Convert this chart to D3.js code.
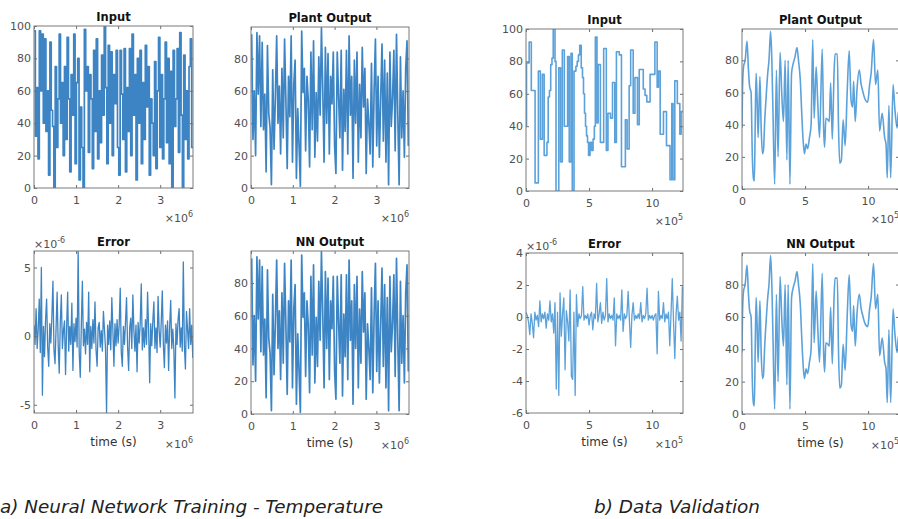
<!DOCTYPE html>
<html><head><meta charset="utf-8">
<script src="https://cdn.jsdelivr.net/npm/d3@7"></script>
<style>
html,body{margin:0;padding:0;background:#fff;}
svg{display:block;}
text{font-family:"DejaVu Sans",sans-serif;}
</style></head><body>
<svg id="c" width="898" height="519"></svg>
<script>
// ---------------- DATA ----------------
// (a) Training: time in units of 1e6 s
const timeMaxA = 3.78;
const stepA = 0.0315;          // duration of one input level (x1e6 s)
const errStepA = 0.025;        // error sampling interval (x1e6 s)
const inputA = [
97,32,62,18,97,60,95,40,92,35,
60,8,90,48,38,0,75,25,55,95,
40,65,20,75,30,93,55,10,70,45,
95,15,65,80,5,50,25,0,98,60,
75,22,70,55,12,85,35,92,18,60,
28,82,45,100,62,15,88,40,84,20,
70,52,85,25,8,85,58,30,86,10,
62,35,86,20,95,45,70,5,80,40,
85,15,65,30,88,50,75,8,55,40,
20,78,12,60,93,25,70,18,55,90,
28,80,15,72,0,85,38,55,86,22,
96,45,0,82,30,60,18,75,92,25];
const plantOutputA = [
95,30,60,20,96,58,94,38,90,36,
58,10,88,46,37,2,73,24,56,94,
40,63,21,74,31,92,54,12,69,44,
94,16,64,79,6,49,26,1,97,59,
74,23,69,54,13,84,36,91,19,59,
29,81,45,99,61,16,87,40,83,21,
69,52,84,26,9,84,57,31,85,11,
61,35,85,21,94,45,69,6,79,40,
84,16,64,31,87,50,74,9,55,40,
21,77,13,60,92,26,69,19,55,89,
29,79,16,71,2,84,38,55,85,23,
95,45,2,81,31,60,19,74,91,26];
const nnOutputA = plantOutputA; // NN output is indistinguishable from plant output
const errorA = [ // x1e-6
0.8,-0.6,2.0,-0.9,0.5,2.7,-1.2,5.0,-4.3,0.7,
-1.5,1.2,2.7,-0.8,-2.2,0.9,-0.5,1.4,4.0,-1.0,
-2.0,0.6,3.2,-0.7,-2.7,1.0,3.0,-0.9,0.4,1.1,
-2.8,0.6,3.2,-1.1,0.7,-0.6,2.4,-2.5,0.9,-0.4,
1.3,-0.8,6.2,-1.2,-3.0,0.8,4.0,-0.7,0.5,-1.3,
1.0,-0.6,3.2,-2.6,0.7,-0.9,1.2,-0.5,2.5,-1.0,
-2.2,0.6,1.0,-0.8,0.4,-1.1,1.8,0.5,-0.9,-5.6,
0.8,-0.6,1.1,-1.0,2.8,0.5,-2.2,0.9,-0.7,1.2,
-0.5,0.8,3.5,-1.2,-2.2,0.7,-0.6,1.0,2.8,-0.8,
-2.5,0.6,1.3,-0.9,3.0,0.4,-1.1,0.8,-2.6,1.0,
-0.5,0.9,3.8,-1.0,0.6,-0.8,1.2,-0.6,3.2,0.5,
-3.4,0.9,-0.7,1.1,2.5,-0.9,0.6,-1.2,2.9,0.4,
-0.8,1.0,3.3,-0.6,-2.3,0.8,-0.5,1.1,-2.5,0.7,
2.6,-0.9,0.5,-1.0,-4.5,0.9,-0.6,1.2,2.0,-0.8,
0.6,-1.1,5.4,-0.7,-2.4,1.8,0.5,-0.9,2.0,-0.6,
0.8,-1.6];

// (b) Validation: time in units of 1e5 s
const timeMaxB = 12.45;
const errStepB = 0.1;
const inputBTime = [0,0.04,0.25,0.42,0.72,0.98,1.14,1.30,1.44,1.66,1.76,1.86,1.96,2.06,2.16,2.30,2.38,2.60,2.74,2.88,3.04,3.30,3.43,3.57,3.67,3.81,3.96,4.06,4.16,4.26,4.38,4.48,4.56,4.64,4.72,4.80,4.88,4.96,5.08,5.20,5.32,5.42,5.50,5.63,5.72,5.90,6.16,6.37,6.50,6.70,6.86,7.04,7.17,7.40,7.57,7.88,8.02,8.18,8.30,8.50,8.64,8.84,8.98,9.30,9.44,9.58,9.84,10.22,10.40,10.50,10.64,10.90,11.14,11.42,11.56,11.66,11.80,12.00,12.20,12.30];
const inputBValue = [40,79,92,62,5,74,32,72,22,30,58,62,78,82,100,80,0,76,18,87,40,83,18,85,0,74,77,80,84,90,76,70,60,48,40,34,30,22,30,25,32,40,95,42,78,30,88,25,48,45,67,30,86,84,15,44,26,65,87,48,70,41,75,63,59,55,72,92,64,74,35,49,28,7,54,7,68,54,35,49];
const plantBTime = [0,0.04,0.12,0.25,0.40,0.50,0.60,0.72,0.82,0.92,0.98,1.05,1.12,1.20,1.28,1.42,1.52,1.62,1.70,1.80,1.92,2.04,2.14,2.27,2.36,2.45,2.59,2.73,2.86,3.02,3.16,3.29,3.42,3.56,3.66,3.80,3.93,4.06,4.20,4.36,4.48,4.62,4.75,4.85,4.95,5.08,5.20,5.35,5.48,5.61,5.72,5.88,6.00,6.15,6.36,6.48,6.55,6.65,6.82,6.92,7.03,7.16,7.30,7.38,7.56,7.65,7.75,7.88,8.02,8.18,8.34,8.50,8.65,8.77,8.85,8.98,9.12,9.30,9.45,9.57,9.75,9.97,10.12,10.24,10.43,10.59,10.77,10.91,11.12,11.31,11.42,11.52,11.65,11.79,11.98,12.11,12.30,12.40,12.45];
const plantBValue = [38,62,76,80,92,76,64,60,20,6,5,42,72,55,32,70,38,22,24,42,58,72,80,98,82,50,3,74,20,85,58,42,80,18,80,3,72,78,82,88,80,68,45,30,22,28,25,32,40,93,44,76,55,32,87,36,26,44,43,42,66,31,72,84,84,40,16,18,43,27,60,86,55,51,67,42,62,74,65,61,56,54,65,72,93,65,74,36,47,32,28,7,52,7,65,51,38,48,45];
const nnBValue = plantBValue; // NN output matches plant output
const errorB = [ // x1e-6
0.3,0.1,-0.3,-1.1,0.2,-0.4,-1.3,0.3,-0.2,0.1,
-0.6,1.0,-0.3,0.2,-0.1,0.3,-0.7,0.2,-0.2,1.0,
-0.3,0.2,-1.0,0.9,-4.5,0.3,-4.9,1.5,-1.2,0.2,
1.2,-3.3,0.4,-0.3,-1.5,1.7,-3.7,-3.9,0.3,-4.9,
1.4,-0.6,0.2,-0.1,0.1,1.9,-0.2,0.1,-0.1,0.2,
-0.5,0.1,0.3,-0.8,0.2,-0.1,2.1,-0.3,0.2,0.9,
-0.4,0.3,-0.2,0.1,2.4,-0.3,0.2,-0.1,0.1,-0.2,
1.2,-1.8,0.2,-0.1,0.1,-0.2,1.7,-0.9,0.2,-0.1,
0.1,1.6,-0.2,-1.9,0.1,0.9,-0.2,0.1,-0.1,0.2,
-0.1,0.9,-0.3,0.1,-0.1,0.2,1.8,-0.2,0.1,-0.1,
0.1,-0.2,0.1,0.2,-2.3,1.6,-0.2,0.1,-0.1,0.9,
-0.3,0.2,-0.1,0.3,-1.8,0.2,2.4,-0.3,-2.6,0.2,
1.3,-0.2,0.3,-1.5,1.9];

const ticksXA = [0,1,2,3];
const ticksXB = [0,5,10];
const ticksYLevel = [0,20,40,60,80,100];
const ticksYOut = [0,20,40,60,80];
const ticksYErrA = [-5,0,5];
const ticksYErrB = [-6,-4,-2,0,2,4];

// ---------------- DRAWING ----------------
const svg = d3.select("#c");
const defs = svg.append("defs");
let clipN = 0;
const lineColA = "#1a6fb9", lineColB = "#3e90d3";
const tickCol = "#505050";

function stairsPts(values, step){
  const p = values.map((v,i)=>[i*step, v]);
  p.push([values.length*step, values[values.length-1]]);
  return p;
}

function drawLine(g, x, y, pts, curve, color, w, op){
  g.append("path").datum(pts)
    .attr("d", d3.line().curve(curve).x(d=>x(d[0])).y(d=>y(d[1])))
    .attr("fill","none").attr("stroke",color).attr("stroke-width",w)
    .attr("stroke-opacity",op).attr("stroke-linejoin","round");
}

function panel(o){
  const [x0,x1,y0,y1] = o.box;
  const x = d3.scaleLinear().domain(o.xDomain).range([x0,x1]);
  const y = d3.scaleLinear().domain(o.yDomain).range([y1,y0]);
  const g = svg.append("g");
  const id = "clp"+(clipN++);
  defs.append("clipPath").attr("id",id).append("rect")
    .attr("x",x0).attr("y",y0).attr("width",x1-x0).attr("height",y1-y0);
  const lg = g.append("g").attr("clip-path",`url(#${id})`);
  o.draw(lg,x,y);

  const style = sel => {
    sel.select(".domain").remove();
    sel.selectAll(".tick line").attr("stroke","#6e6e6e");
    sel.selectAll("text").attr("fill",tickCol).attr("font-size",11)
      .attr("font-family","DejaVu Sans, sans-serif");
  };
  const fmt = d => String(d);
  g.append("g").attr("transform",`translate(0,${y1})`)
    .call(d3.axisBottom(x).tickValues(o.xTicks).tickFormat(fmt).tickSize(-3).tickPadding(8))
    .call(style);
  g.append("g").attr("transform",`translate(0,${y0})`)
    .call(d3.axisTop(x).tickValues(o.xTicks).tickFormat("").tickSize(-3)).call(style);
  g.append("g").attr("transform",`translate(${x0},0)`)
    .call(d3.axisLeft(y).tickValues(o.yTicks).tickFormat(fmt).tickSize(-3).tickPadding(3))
    .call(style);
  g.append("g").attr("transform",`translate(${x1},0)`)
    .call(d3.axisRight(y).tickValues(o.yTicks).tickFormat("").tickSize(-3)).call(style);

  g.append("rect").attr("x",x0).attr("y",y0).attr("width",x1-x0).attr("height",y1-y0)
    .attr("fill","none").attr("stroke","#7a7a7a").attr("stroke-width",1);

  g.append("text").attr("x",(x0+x1)/2).attr("y",y0-5).attr("text-anchor","middle")
    .attr("font-weight","bold").attr("font-size",11.5).attr("fill","#111").text(o.title);

  const bottomRow = !!o.xlabel;
  const ex = g.append("text").attr("x",x1).attr("y",y1 + (bottomRow?35:34)).attr("text-anchor","end")
    .attr("fill",tickCol).attr("font-size",11);
  ex.append("tspan").text("\u00d710");
  ex.append("tspan").attr("dy",-5).attr("font-size",8).text(o.xExp);
  if (o.yExp){
    const ey = g.append("text").attr("x",x0).attr("y",y0-3).attr("fill",tickCol).attr("font-size",11);
    ey.append("tspan").text("\u00d710");
    ey.append("tspan").attr("dy",-5).attr("font-size",8).text(o.yExp);
  }
  if (o.xlabel){
    g.append("text").attr("x",(x0+x1)/2).attr("y",y1+33).attr("text-anchor","middle")
      .attr("fill","#333").attr("font-size",12).text(o.xlabel);
  }
}

const layout = {
  aIn:[34,193,26,188], aPl:[251,409,27,188], aEr:[34,193,251,413], aNN:[251,409,251,414],
  bIn:[526,683,29,191], bPl:[742,899,29,189], bEr:[526,683,253,413], bNN:[742,899,253,414]
};

// (a) panels
panel({box:layout.aIn, xDomain:[0,timeMaxA], yDomain:[0,100], xTicks:ticksXA, yTicks:ticksYLevel,
  title:"Input", xExp:"6",
  draw:(g,x,y)=>drawLine(g,x,y,stairsPts(inputA,stepA),d3.curveStepAfter,lineColA,1.7,0.85)});
panel({box:layout.aPl, xDomain:[0,timeMaxA], yDomain:[0,99.5], xTicks:ticksXA, yTicks:ticksYOut,
  title:"Plant Output", xExp:"6",
  draw:(g,x,y)=>drawLine(g,x,y,plantOutputA.map((v,i)=>[(i+0.5)*stepA,v]),d3.curveLinear,lineColA,1.7,0.85)});
panel({box:layout.aEr, xDomain:[0,timeMaxA], yDomain:[-5.6,6.2], xTicks:ticksXA, yTicks:ticksYErrA,
  title:"Error", xExp:"6", yExp:"-6", xlabel:"time (s)",
  draw:(g,x,y)=>drawLine(g,x,y,errorA.map((v,i)=>[i*errStepA,v]),d3.curveLinear,lineColA,1.3,0.85)});
panel({box:layout.aNN, xDomain:[0,timeMaxA], yDomain:[0,99.5], xTicks:ticksXA, yTicks:ticksYOut,
  title:"NN Output", xExp:"6", xlabel:"time (s)",
  draw:(g,x,y)=>drawLine(g,x,y,nnOutputA.map((v,i)=>[(i+0.5)*stepA,v]),d3.curveLinear,lineColA,1.7,0.85)});

// (b) panels
const inputBPts = inputBTime.map((t,i)=>[t,inputBValue[i]]).concat([[timeMaxB, inputBValue[inputBValue.length-1]]]);
panel({box:layout.bIn, xDomain:[0,timeMaxB], yDomain:[0,100], xTicks:ticksXB, yTicks:ticksYLevel,
  title:"Input", xExp:"5",
  draw:(g,x,y)=>drawLine(g,x,y,inputBPts,d3.curveStepAfter,lineColB,1.6,0.85)});
panel({box:layout.bPl, xDomain:[0,timeMaxB], yDomain:[0,99.5], xTicks:ticksXB, yTicks:ticksYOut,
  title:"Plant Output", xExp:"5",
  draw:(g,x,y)=>drawLine(g,x,y,plantBTime.map((t,i)=>[t,plantBValue[i]]),d3.curveMonotoneX,lineColB,1.6,0.85)});
panel({box:layout.bEr, xDomain:[0,timeMaxB], yDomain:[-6,4], xTicks:ticksXB, yTicks:ticksYErrB,
  title:"Error", xExp:"5", yExp:"-6", xlabel:"time (s)",
  draw:(g,x,y)=>drawLine(g,x,y,errorB.map((v,i)=>[i*errStepB,v]),d3.curveLinear,lineColB,1.3,0.85)});
panel({box:layout.bNN, xDomain:[0,timeMaxB], yDomain:[0,99.5], xTicks:ticksXB, yTicks:ticksYOut,
  title:"NN Output", xExp:"5", xlabel:"time (s)",
  draw:(g,x,y)=>drawLine(g,x,y,plantBTime.map((t,i)=>[t,nnBValue[i]]),d3.curveMonotoneX,lineColB,1.6,0.85)});

// captions
svg.append("text").attr("x",0).attr("y",513).attr("font-family","Lato, 'Open Sans', sans-serif")
  .attr("font-style","italic").attr("font-size",17).attr("fill","#222")
  .attr("textLength",383).attr("lengthAdjust","spacingAndGlyphs")
  .text("a) Neural Network Training - Temperature");
svg.append("text").attr("x",594).attr("y",513).attr("font-family","Lato, 'Open Sans', sans-serif")
  .attr("font-style","italic").attr("font-size",17).attr("fill","#222")
  .attr("textLength",166).attr("lengthAdjust","spacingAndGlyphs")
  .text("b) Data Validation");
</script>
</body></html>
